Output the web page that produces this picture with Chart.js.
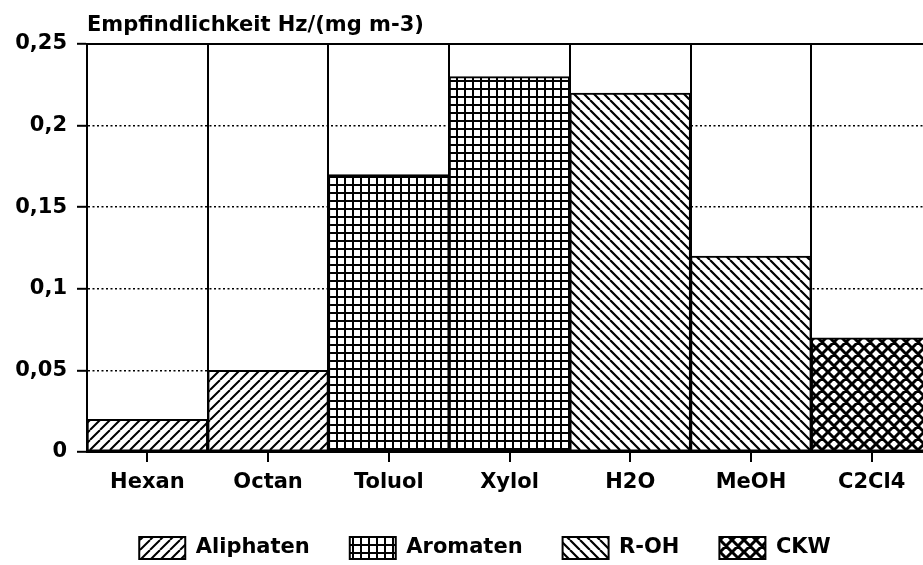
<!DOCTYPE html>
<html>
<head>
<meta charset="utf-8">
<script src="https://cdn.jsdelivr.net/npm/chart.js@4/dist/chart.umd.min.js"></script>
<style>
  html, body { margin: 0; padding: 0; background: #fff; overflow: hidden; }
  #wrap { width: 923px; height: 565px; overflow: hidden; }
</style>
</head>
<body>
<div id="wrap"><canvas id="c" width="932" height="565"></canvas></div>
<script>
// ---- data ----
const categories = ['Hexan', 'Octan', 'Toluol', 'Xylol', 'H2O', 'MeOH', 'C2Cl4'];
const seriesNames = ['Aliphaten', 'Aromaten', 'R-OH', 'CKW'];
const aliphaten = [0.02, 0.05, null, null, null, null, null];
const aromaten  = [null, null, 0.17, 0.23, null, null, null];
const roh       = [null, null, null, null, 0.22, 0.12, null];
const ckw       = [null, null, null, null, null, null, 0.07];
const yTicks = [0, 0.05, 0.1, 0.15, 0.2, 0.25];
const yTickLabels = ['0', '0,05', '0,1', '0,15', '0,2', '0,25'];
const titleText = 'Empfindlichkeit Hz/(mg m-3)';

// ---- hatch patterns ----
function makePattern(size, draw) {
  const c = document.createElement('canvas');
  c.width = size; c.height = size;
  const g = c.getContext('2d');
  g.fillStyle = '#fff';
  g.fillRect(0, 0, size, size);
  g.strokeStyle = '#000';
  draw(g, size);
  return g.createPattern(c, 'repeat');
}
const patFwd = makePattern(10, (g, s) => {
  g.lineWidth = 2;
  g.beginPath();
  for (let k = -1; k <= 1; k++) { g.moveTo(k * s, s); g.lineTo(k * s + s, 0); }
  g.stroke();
});
const patBack = makePattern(10, (g, s) => {
  g.lineWidth = 2.2;
  g.beginPath();
  for (let k = -1; k <= 1; k++) { g.moveTo(k * s, 0); g.lineTo(k * s + s, s); }
  g.stroke();
});
const patGrid = makePattern(8, (g, s) => {
  g.fillStyle = '#000';
  g.fillRect(0, 0, s, 2);
  g.fillRect(0, 0, 2, s);
});
const patCross = makePattern(12, (g, s) => {
  g.lineWidth = 3;
  g.beginPath();
  for (let k = -1; k <= 1; k++) {
    g.moveTo(k * s, s); g.lineTo(k * s + s, 0);
    g.moveTo(k * s, 0); g.lineTo(k * s + s, s);
  }
  g.stroke();
});

Chart.defaults.font.family = "'DejaVu Sans', sans-serif";
Chart.defaults.font.weight = 'bold';
Chart.defaults.font.size = 21;
Chart.defaults.color = '#000';

const titlePlugin = {
  id: 'topTitle',
  afterLayout(chart) {
    // centre the legend under the same span as the original figure
    if (chart.legend) { chart.legend.left = 38; }
  },
  afterDraw(chart) {
    const ctx = chart.ctx;
    ctx.save();
    ctx.font = "bold 21px 'DejaVu Sans', sans-serif";
    ctx.fillStyle = '#000';
    ctx.textBaseline = 'alphabetic';
    ctx.textAlign = 'left';
    ctx.fillText(titleText, chart.chartArea.left, 31);
    ctx.restore();
  }
};

function ds(label, data, pat) {
  return {
    label, data,
    backgroundColor: pat,
    borderColor: '#000',
    borderWidth: 2,
    borderSkipped: false,
    barPercentage: 1,
    categoryPercentage: 1
  };
}

new Chart(document.getElementById('c'), {
  type: 'bar',
  data: {
    labels: categories,
    datasets: [
      ds(seriesNames[0], aliphaten, patFwd),
      ds(seriesNames[1], aromaten, patGrid),
      ds(seriesNames[2], roh, patBack),
      ds(seriesNames[3], ckw, patCross)
    ]
  },
  options: {
    responsive: false,
    devicePixelRatio: 1,
    animation: false,
    layout: { padding: { top: 44, left: 0, right: 0, bottom: -4 } },
    plugins: {
      title: { display: false },
      tooltip: { enabled: false },
      legend: {
        position: 'bottom',
        labels: {
          boxWidth: 46,
          boxHeight: 22,
          padding: 40,
          font: { size: 21, weight: 'bold' },
          color: '#000'
        }
      }
    },
    scales: {
      x: {
        stacked: true,
        position: 'bottom',
        grid: {
          offset: false,
          drawOnChartArea: false,
          drawTicks: true,
          tickLength: 10,
          color: '#000',
          lineWidth: 2
        },
        border: { display: true, color: '#000', width: 2 },
        ticks: { padding: 8, maxRotation: 0, autoSkip: false },
        afterFit(s) { s.height = 45; }
      },
      x2: {
        type: 'category',
        labels: categories,
        position: 'top',
        grid: {
          offset: true,
          drawTicks: false,
          color: '#000',
          lineWidth: 2
        },
        border: { display: true, color: '#000', width: 2 },
        ticks: { display: false },
        afterFit(s) { s.height = 0; }
      },
      y: {
        stacked: true,
        min: 0,
        max: 0.25,
        afterBuildTicks(s) { s.ticks = yTicks.map(v => ({ value: v })); },
        ticks: {
          padding: 10,
          callback: (v) => yTickLabels[yTicks.findIndex(t => Math.abs(t - v) < 1e-9)]
        },
        grid: {
          color: '#000',
          lineWidth: 1.6,
          tickLength: 10,
          tickWidth: 2,
          tickBorderDash: [12, 0]
        },
        border: { display: true, color: '#000', width: 2, dash: [2, 2.5] },
        afterFit(s) { s.width = 87; }
      }
    }
  },
  plugins: [titlePlugin]
});
</script>
</body>
</html>
